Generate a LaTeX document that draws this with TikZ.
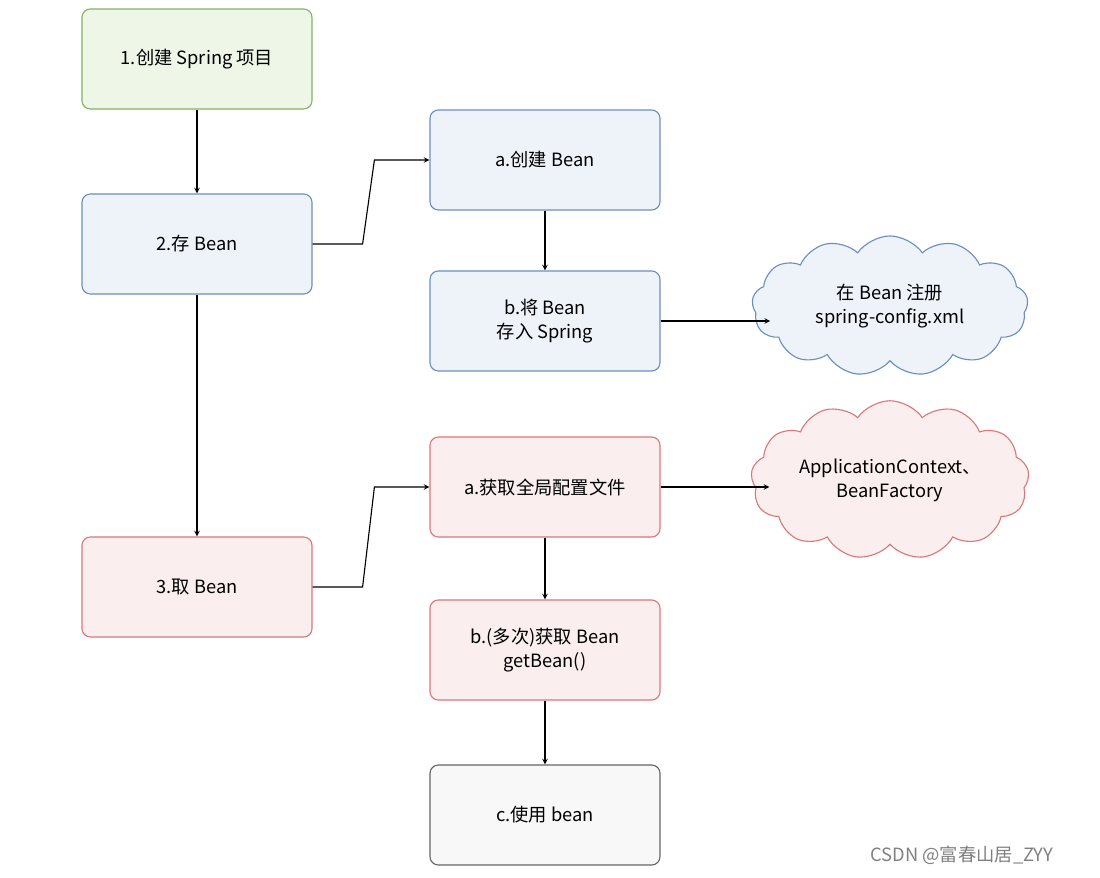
\documentclass[tikz,border=0pt]{standalone}
\usepackage{fontspec}
\setmainfont{Noto Sans CJK SC}
\usetikzlibrary{positioning,shapes,arrows,calc}
\definecolor{greenline}{HTML}{82B366}
\definecolor{greenfill}{HTML}{EEF6E8}
\definecolor{blueline}{HTML}{6C8EBF}
\definecolor{bluefill}{HTML}{EEF3FA}
\definecolor{redline}{HTML}{D9787A}
\definecolor{redfill}{HTML}{FBEEEE}
\definecolor{grayline}{HTML}{666666}
\definecolor{grayfill}{HTML}{F8F8F8}

\begin{document}
\begin{tikzpicture}[
    x=0.025cm, y=-0.025cm,
    stage/.style={rectangle, rounded corners=6pt, thick, minimum width=5.75cm, minimum height=2.5cm, align=center, font=\fontsize{13}{17}\selectfont},
    cloudbox/.style={cloud, cloud puffs=13, cloud puff arc=110, aspect=2.1, thick, minimum width=6.9cm, minimum height=3.5cm, align=center, font=\fontsize{13}{17}\selectfont},
    greenbox/.style={draw=greenline, fill=greenfill},
    bluebox/.style={draw=blueline, fill=bluefill},
    redbox/.style={draw=redline, fill=redfill},
    graybox/.style={draw=grayline, fill=grayfill},
    arrow/.style={->,>=stealth,thick}
]
    \useasboundingbox (0,0) rectangle (1100,878);

    \node[stage, greenbox] (create01) at (197,59) {1.创建 Spring 项目};
    \node[stage, bluebox] (store01) at (197,244) {2.存 Bean};
    \node[stage, redbox] (fetch01) at (197,587) {3.取 Bean};

    \node[stage, bluebox] (newbean01) at (545,160) {a.创建 Bean};
    \node[stage, bluebox] (putbean01) at (545,321) {b.将 Bean\\存入 Spring};
    \node[cloudbox, bluebox] (config01) at (890,306) {在 Bean 注册\\spring-config.xml};

    \node[stage, redbox] (context01) at (545,487) {a.获取全局配置文件};
    \node[cloudbox, redbox] (factory01) at (890,480) {ApplicationContext、\\BeanFactory};
    \node[stage, redbox] (getbean01) at (545,650) {b.(多次)获取 Bean\\getBean()};
    \node[stage, graybox] (usebean01) at (545,815) {c.使用 bean};

    \draw[arrow] (create01) -- (store01);
    \draw[arrow] (store01) -- (fetch01);
    \draw[arrow] (store01.east) -- ++(50,0) -- ($(newbean01.west)+(-55,0)$) -- (newbean01.west);
    \draw[arrow] (newbean01) -- (putbean01);
    \draw[arrow] (putbean01.east) -- ($(putbean01.east -| config01.west)+(18,0)$);
    \draw[arrow] (fetch01.east) -- ++(50,0) -- ($(context01.west)+(-55,0)$) -- (context01.west);
    \draw[arrow] (context01.east) -- ($(context01.east -| factory01.west)+(18,0)$);
    \draw[arrow] (context01) -- (getbean01);
    \draw[arrow] (getbean01) -- (usebean01);

    \node[text=gray, font=\fontsize{13}{15}\selectfont] (mark01) at (962,855) {CSDN @富春山居\_ZYY};
\end{tikzpicture}
\end{document}
